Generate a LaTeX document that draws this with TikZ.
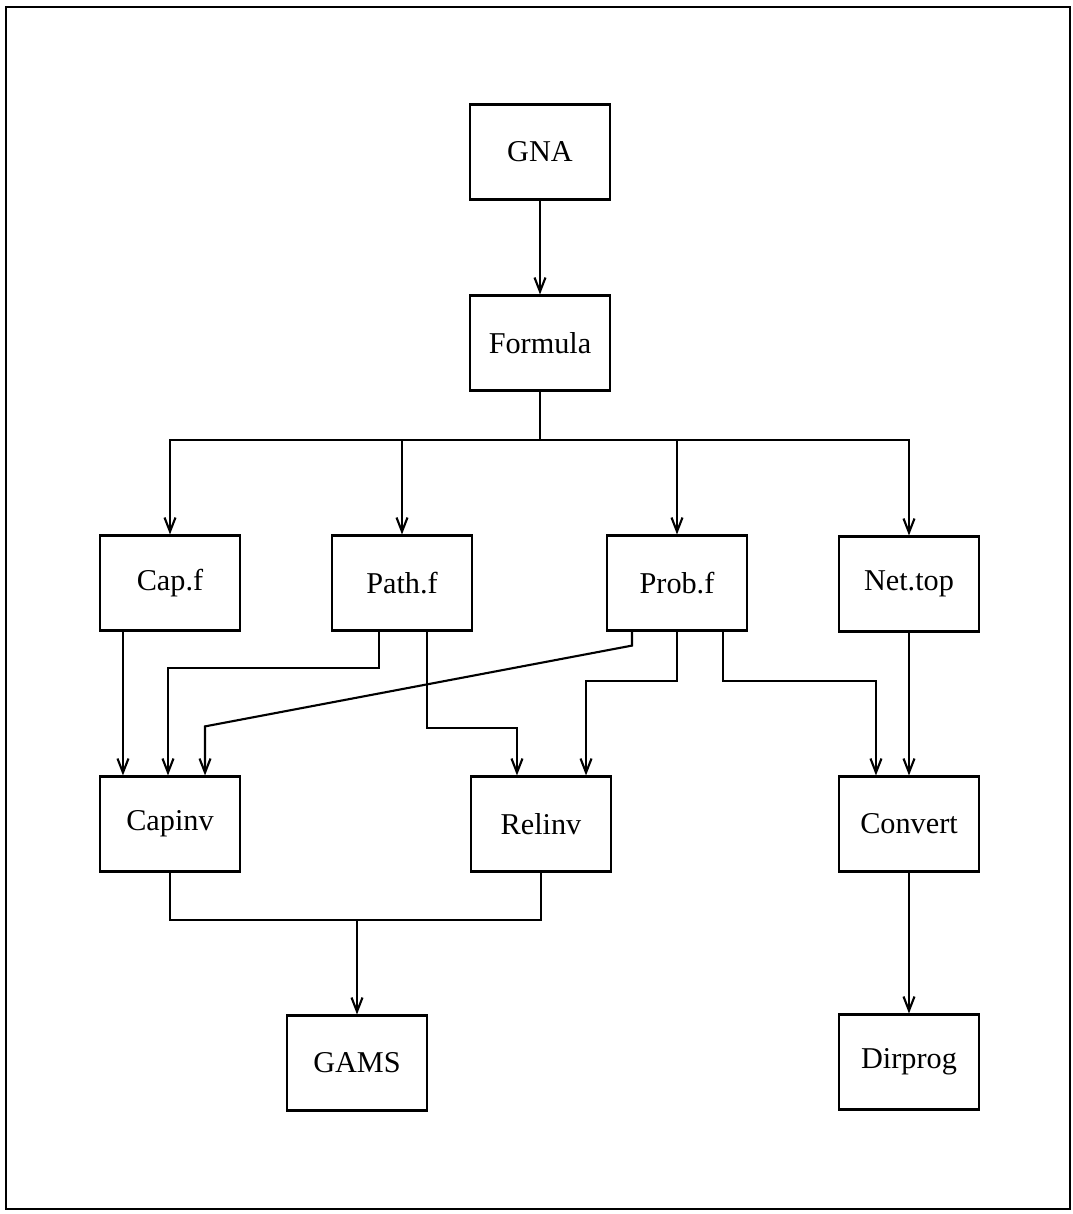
\documentclass[tikz,border=0pt]{standalone}
\usepackage{fontspec}
\setmainfont{Liberation Serif}
\usepackage{tikz}
\usetikzlibrary{arrows.meta}
\tikzstyle{prog}=[rectangle,draw,line width=0.6pt,minimum width=1.4cm,minimum height=0.95cm,inner sep=0pt,font=\fontsize{8.6}{10}\selectfont]
\tikzstyle{arrow}=[draw,line width=0.6pt,-{Straight Barb[length=1.4mm,width=1.1mm]}]
\tikzstyle{link}=[draw,line width=0.6pt]

\begin{document}
\begin{tikzpicture}[x=0.01cm,y=-0.01cm]
		
		\useasboundingbox (0,0) rectangle (1073,1214);
		\draw[line width=0.8pt] (6,7) rectangle (1070,1209);
		
		\node (gna) [prog] at (540,152) {GNA};
		\node (formula) [prog] at (540,343) {Formula};
		\node (capf) [prog] at (170,583) {Cap.f};
		\node (pathf) [prog] at (402,583) {Path.f};
		\node (probf) [prog] at (677,583) {Prob.f};
		\node (nettop) [prog] at (909,584) {Net.top};
		\node (capinv) [prog] at (170,824) {Capinv};
		\node (relinv) [prog] at (541,824) {Relinv};
		\node (convert) [prog] at (909,824) {Convert};
		\node (gams) [prog] at (357,1063) {GAMS};
		\node (dirprog) [prog] at (909,1062) {Dirprog};
		
		\coordinate (fork) at ([yshift=-0.48cm]formula.south);
		\coordinate (join) at ([yshift=-0.47cm]capinv.south);
		
		\draw[arrow] (gna) -- (formula);
		\draw[link] (formula.south) -- (fork);
		\draw[arrow] (fork) -| (capf.north);
		\draw[arrow] (fork) -| (pathf.north);
		\draw[arrow] (fork) -| (probf.north);
		\draw[arrow] (fork) -| (nettop.north);
		
		\draw[arrow] ([xshift=-0.47cm]capf.south) -- ([xshift=-0.47cm]capinv.north);
		\draw[arrow] ([xshift=-0.23cm]pathf.south) -- ++(0,36) -| ([xshift=-0.02cm]capinv.north);
		\draw[arrow] ([xshift=0.25cm]pathf.south) -- ++(0,96) -| ([xshift=-0.24cm]relinv.north);
		\draw[arrow] ([xshift=-0.45cm]probf.south) -- ++(0,14) -- ([xshift=0.35cm,yshift=0.49cm]capinv.north) -- ([xshift=0.35cm]capinv.north);
		\draw[arrow] (probf.south) -- ++(0,49) -| ([xshift=0.45cm]relinv.north);
		\draw[arrow] ([xshift=0.46cm]probf.south) -- ++(0,49) -| ([xshift=-0.33cm]convert.north);
		\draw[arrow] (nettop) -- (convert);
		
		\draw[link] (capinv.south) |- (join) -| (relinv.south);
		\draw[arrow] (gams.north |- join) -- (gams.north);
		\draw[arrow] (convert) -- (dirprog);
		
\end{tikzpicture}
\end{document}
